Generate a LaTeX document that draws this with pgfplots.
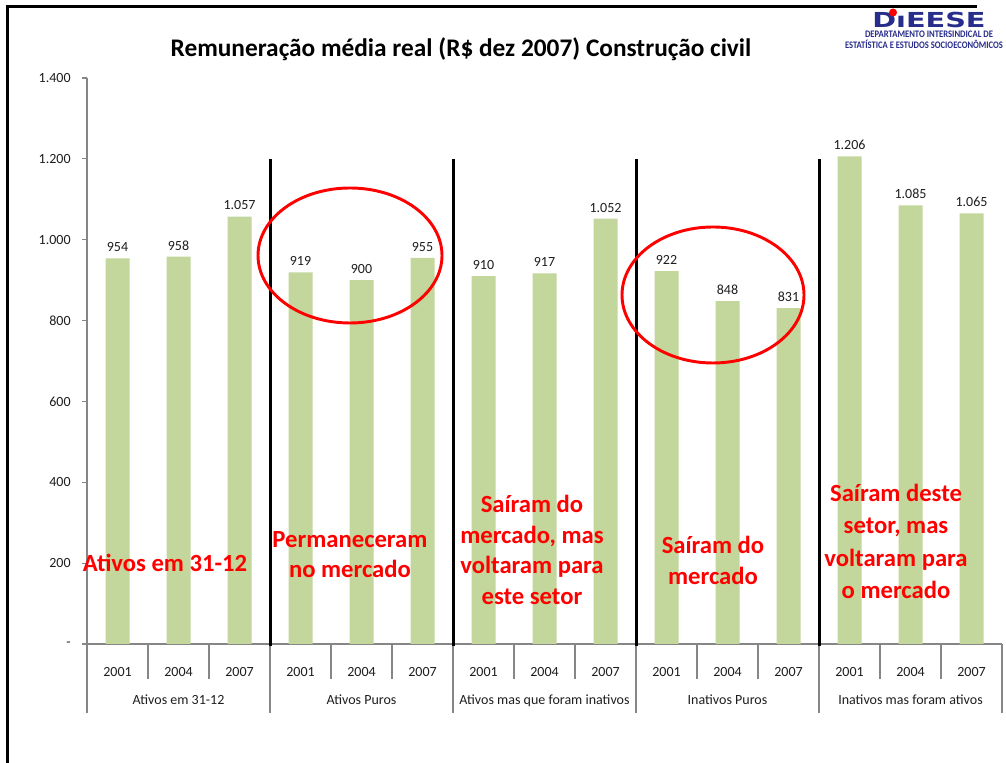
\documentclass[border=0pt]{standalone}
\usepackage{pgfplots}
\pgfplotsset{compat=1.18}
\usepackage{fontspec}
\setmainfont{Carlito}
\newfontfamily\logofont{DejaVu Sans}
\usepackage{graphicx}
\definecolor{barg}{RGB}{195,214,155}
\definecolor{axgray}{RGB}{134,134,134}
\definecolor{dieeseblue}{RGB}{40,45,140}
\definecolor{annred}{RGB}{255,0,0}
\definecolor{lbl}{RGB}{30,30,30}
\newcommand{\tickfont}{\fontsize{10.5}{12}\selectfont}
\newcommand{\redfont}{\bfseries\fontsize{18.5}{22}\selectfont}
\begin{document}
\begin{tikzpicture}[x=0.75pt,y=0.75pt]
\path[use as bounding box, fill=white] (0,0) rectangle (1006,763);
\draw[line width=2.25pt] (7.5,0) -- (7.5,756.5) -- (977,756.5);
\coordinate (O) at (87,119);
\begin{axis}[
  at={(O)}, anchor=south west,
  scale only axis, width=686.25pt, height=424.5pt,
  xmin=-0.5, xmax=14.5, ymin=0, ymax=1400,
  axis x line*=bottom, axis y line*=left,
  axis line style={draw=axgray, line width=0.8pt},
  ybar, bar width=18pt,
  xtick={0,...,14},
  xticklabels={2001,2004,2007,2001,2004,2007,2001,2004,2007,2001,2004,2007,2001,2004,2007},
  xtick style={draw=none},
  ytick={0,200,...,1400},
  yticklabels={-\hspace{5.5pt},200,400,600,800,1.000,1.200,1.400},
  ytick style={draw=axgray, line width=0.8pt},
  tick align=outside, major tick length=3.75pt,
  ticklabel style={font=\tickfont, text=lbl},
  xticklabel style={anchor=base, yshift=-21pt},
  yticklabel style={anchor=east, xshift=-5pt},
  clip=false,
  /pgf/number format/.cd, 1000 sep={.}, assume math mode=true, /pgfplots/.cd,
  nodes near coords,
  nodes near coords align={anchor=base},
  every node near coord/.append style={anchor=base, yshift=5pt, font=\tickfont, text=lbl},
]
\addplot[fill=barg, draw=none] coordinates {(0,954) (1,958) (2,1057) (3,919) (4,900) (5,955) (6,910) (7,917) (8,1052) (9,922) (10,848) (11,831) (12,1206) (13,1085) (14,1065)};
\pgfplotsinvokeforeach{0.5,1.5,3.5,4.5,6.5,7.5,9.5,10.5,12.5,13.5}{
  \draw[axgray, line width=0.8pt] (axis cs:#1,0) -- ([yshift=-26.25pt]axis cs:#1,0);
}
\pgfplotsinvokeforeach{-0.5,2.5,5.5,8.5,11.5,14.5}{
  \draw[axgray, line width=0.8pt] (axis cs:#1,0) -- ([yshift=-51.75pt]axis cs:#1,0);
}
\pgfplotsinvokeforeach{2.5,5.5,8.5,11.5}{
  \draw[black, line width=2.25pt] (axis cs:#1,-6) -- (axis cs:#1,1200);
}
\node[anchor=base, font=\tickfont, text=lbl] at ([yshift=-45.75pt]axis cs:1,0) {Ativos em 31-12};
\node[anchor=base, font=\tickfont, text=lbl] at ([yshift=-45.75pt]axis cs:4,0) {Ativos Puros};
\node[anchor=base, font=\tickfont, text=lbl] at ([yshift=-45.75pt]axis cs:7,0) {Ativos mas que foram inativos};
\node[anchor=base, font=\tickfont, text=lbl] at ([yshift=-45.75pt]axis cs:10,0) {Inativos Puros};
\node[anchor=base, font=\tickfont, text=lbl] at ([yshift=-45.75pt]axis cs:13,0) {Inativos mas foram ativos};
\end{axis}
% ellipses
\draw[annred, line width=2.2pt] (350,507.5) ellipse [x radius=92, y radius=67.5];
\draw[annred, line width=2.2pt] (713,468) ellipse [x radius=91, y radius=68];
% red annotations
\begin{scope}[every node/.style={anchor=base, inner sep=0, font=\redfont, text=annred}]
\node at (165,191) {Ativos em 31-12};
\node at (350,215) {Permaneceram};
\node at (350,185) {no mercado};
\node at (532,250) {Saíram do};
\node at (532,219.5) {mercado, mas};
\node at (532,189) {voltaram para};
\node at (532,158.5) {este setor};
\node at (713,209) {Saíram do};
\node at (713,178) {mercado};
\node at (896,261) {Saíram deste};
\node at (896,229) {setor, mas};
\node at (896,196.5) {voltaram para};
\node at (896,164.5) {o mercado};
\end{scope}
% title
\node[anchor=base, inner sep=0, font=\bfseries\fontsize{19}{21}\selectfont] at (461,706) {Remuneração média real (R\$ dez 2007) Construção civil};
% logo
\node[anchor=south west, inner sep=0, text=dieeseblue] at (872,735) {\resizebox{85pt}{11.5pt}{\logofont\bfseries D\i EESE}};
\fill[annred] (893,750.5) circle [radius=4];
\node[anchor=base, inner sep=0, text=dieeseblue] at (929,725) {\resizebox{96pt}{\height}{\fontsize{7.5}{8}\selectfont\bfseries DEPARTAMENTO INTERSINDICAL DE}};
\node[anchor=base, inner sep=0, text=dieeseblue] at (924,714) {\resizebox{118.5pt}{\height}{\fontsize{7.5}{8}\selectfont\bfseries ESTATÍSTICA E ESTUDOS SOCIOECONÔMICOS}};
\end{tikzpicture}
\end{document}
